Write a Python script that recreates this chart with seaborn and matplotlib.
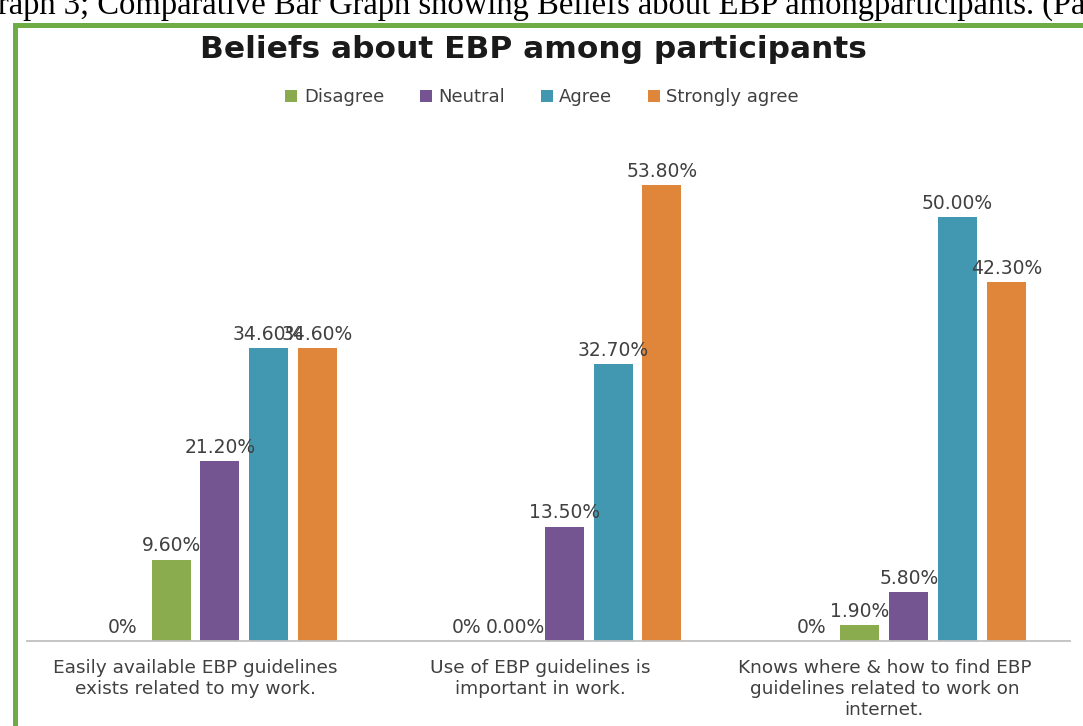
import matplotlib
matplotlib.use("Agg")
import matplotlib.pyplot as plt
from matplotlib.patches import Rectangle
from matplotlib.lines import Line2D
import seaborn as sns
import pandas as pd

# Survey statements (x categories) and response series
statements = [
    "Easily available EBP guidelines\nexists related to my work.",
    "Use of EBP guidelines is\nimportant in work.",
    "Knows where & how to find EBP\nguidelines related to work on\ninternet.",
]
responses = ["Blank", "Strongly disagree", "Disagree", "Neutral", "Agree", "Strongly agree"]

blank = [0.0, 0.0, 0.0]
strongly_disagree = [0.0, 0.0, 0.0]
disagree = [9.6, 0.0, 1.9]
neutral = [21.2, 13.5, 5.8]
agree = [34.6, 32.7, 50.0]
strongly_agree = [34.6, 53.8, 42.3]

legend_items = ["Disagree", "Neutral", "Agree", "Strongly agree"]

series = [blank, strongly_disagree, disagree, neutral, agree, strongly_agree]
rows = []
for resp, vals in zip(responses, series):
    for stmt, v in zip(statements, vals):
        rows.append({"statement": stmt, "response": resp, "percent": v})
df = pd.DataFrame(rows)

colors = {
    "Blank": "#ffffff",
    "Strongly disagree": "#4a7ebb",
    "Disagree": "#8bab4f",
    "Neutral": "#745592",
    "Agree": "#4398b1",
    "Strongly agree": "#e0863b",
}

sns.set_theme(style="white")
plt.rcParams["font.family"] = ["DejaVu Sans"]

W, H = 1083, 726
fig = plt.figure(figsize=(W / 100, H / 100), dpi=100)
fig.patch.set_facecolor("white")

ax = fig.add_axes([27 / W, (H - 641) / H, 1043 / W, (641 - 132.4) / H])

sns.barplot(
    data=df, x="statement", y="percent", hue="response",
    order=statements, hue_order=responses, palette=colors,
    width=0.85, gap=0.2, saturation=1, errorbar=None,
    legend=False, linewidth=0, ax=ax,
)

ax.set_xlim(-0.489, 2.539)
ax.set_ylim(0, 60)
ax.set_xlabel("")
ax.set_ylabel("")
ax.set_yticks([])
for side in ("top", "right", "left"):
    ax.spines[side].set_visible(False)
ax.spines["bottom"].set_color("#c0c0c0")
ax.spines["bottom"].set_linewidth(1.3)
ax.tick_params(axis="x", length=0, pad=13, labelsize=13.3, labelcolor="#404040")
for lab in ax.get_xticklabels():
    lab.set_linespacing(1.2)

# Value labels above each bar
for resp, vals, cont in zip(responses, series, ax.containers):
    if resp == "Blank":
        labels = ["" for _ in vals]
    elif resp == "Strongly disagree":
        labels = [f"{v:.0f}%" for v in vals]
    else:
        labels = [f"{v:.2f}%" for v in vals]
    ax.bar_label(cont, labels=labels, padding=3, fontsize=13.5, color="#404040")

# Title and legend
fig.text(0.493, 0.932, "Beliefs about EBP among participants",
         ha="center", va="center", fontsize=22.5, fontweight="bold", color="#1a1a1a")

handles = [Line2D([], [], marker="s", linestyle="none", markersize=8,
                  markerfacecolor=colors[k], markeredgewidth=0) for k in legend_items]
fig.legend(handles, legend_items, loc="center", bbox_to_anchor=(0.5, 0.866),
           ncol=4, frameon=False, fontsize=13, handlelength=0.8, handletextpad=0.3,
           columnspacing=1.9, labelcolor="#404040")

# Caption line of the page above the framed chart
fig.text(-0.002, 1 - 14 / H,
         "raph 3; Comparative Bar Graph showing Beliefs about EBP amongparticipants. (Pa",
         ha="left", va="baseline", fontsize=23.5, family="Liberation Serif", color="black")

# Green frame around the chart
fig.patches.append(Rectangle((14.5 / W, -0.1), 1.2, (H - 24.5) / H + 0.1,
                             transform=fig.transFigure, fill=False,
                             edgecolor="#6fac46", linewidth=3.6, clip_on=False))

fig.savefig("out.png", dpi=100)
